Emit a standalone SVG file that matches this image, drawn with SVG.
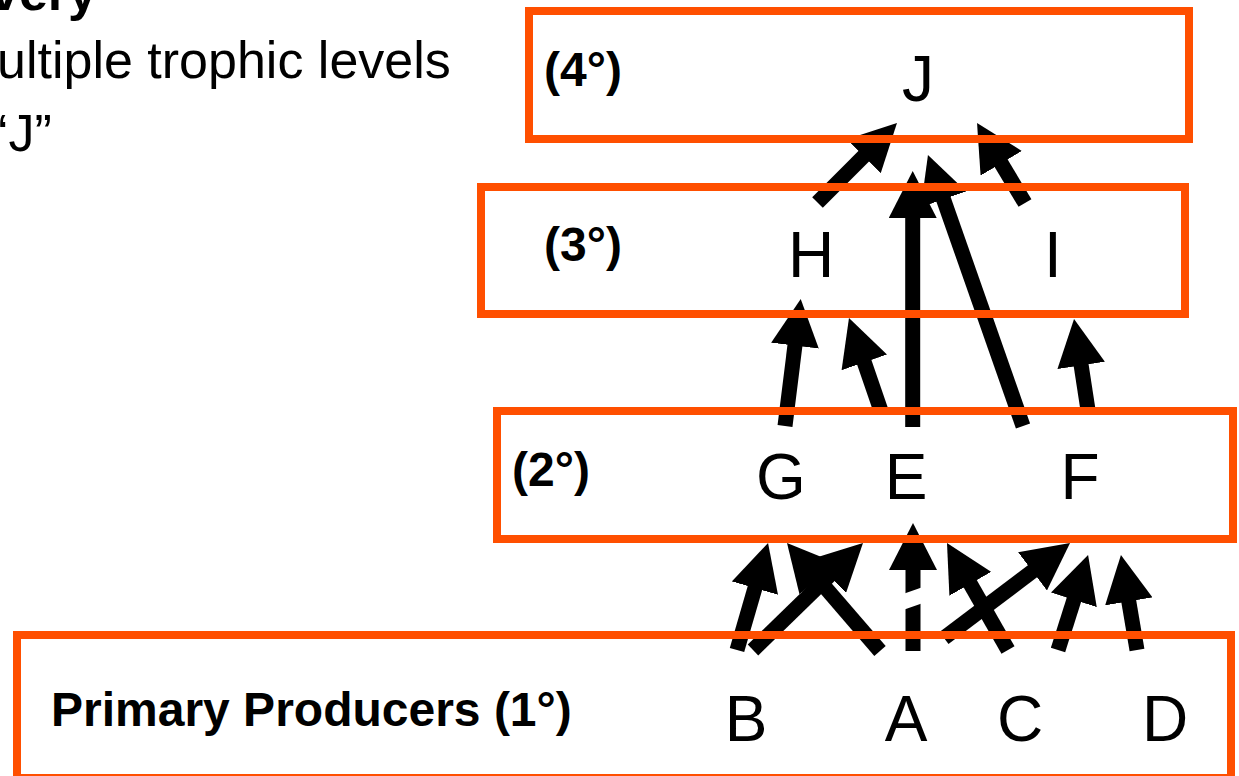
<svg xmlns="http://www.w3.org/2000/svg" width="1239" height="776" viewBox="0 0 1239 776">
  <defs>
    <marker id="head" markerUnits="userSpaceOnUse" markerWidth="48" markerHeight="48" viewBox="0 0 48 48" refX="7" refY="24" orient="auto">
      <path d="M0,0 L47,24 L0,48 Z" fill="#000"/>
    </marker>
    <style>
      .box { fill: none; stroke: #FF4F00; stroke-width: 8; }
      .arrow { stroke: #000; stroke-width: 15; stroke-linecap: butt; fill: none; marker-end: url(#head); }
      .lvl { font-family: "Liberation Sans", Arial, sans-serif; font-weight: bold; font-size: 48px; fill: #000; }
      .node { font-family: "Liberation Sans", Arial, sans-serif; font-size: 64px; fill: #000; text-anchor: middle; }
      .slide { font-family: "Liberation Sans", Arial, sans-serif; font-size: 52px; fill: #000; }
    </style>
  </defs>
  <rect width="1239" height="776" fill="#fff"/>

  <g id="slide-text">
    <text class="slide" x="-10" y="10" font-weight="bold" font-size="62">very</text>
    <text class="slide" x="-3" y="78">ultiple trophic levels</text>
    <text class="slide" x="-3" y="151">‘J”</text>
  </g>

  <g id="connectors">
    <line class="arrow" x1="817.5" y1="202.5" x2="868.7" y2="151.3"/>
    <line class="arrow" x1="912.7" y1="427" x2="912.7" y2="211"/>
    <line class="arrow" x1="1023" y1="426" x2="941.2" y2="192.7"/>
    <line class="arrow" x1="1025" y1="203" x2="997.6" y2="157.3"/>
    <line class="arrow" x1="785" y1="426" x2="795.8" y2="338.7"/>
    <line class="arrow" x1="881" y1="411" x2="862" y2="355.8"/>
    <line class="arrow" x1="1088" y1="410" x2="1080.1" y2="358.5"/>
    <line class="arrow" x1="737" y1="650" x2="756.9" y2="581.4"/>
    <line class="arrow" x1="753" y1="650" x2="834.3" y2="570.9"/>
    <line class="arrow" x1="880" y1="651" x2="813.1" y2="573.3"/>
    <line class="arrow" x1="913" y1="651" x2="913" y2="563"/>
    <line class="arrow" x1="1008" y1="650" x2="966.8" y2="577.7"/>
    <line class="arrow" x1="944" y1="638" x2="1038.1" y2="567.1"/>
    <line class="arrow" x1="1058" y1="650" x2="1076" y2="593.2"/>
    <line class="arrow" x1="1137" y1="650" x2="1127.6" y2="594.5"/>
    <polygon points="903,594 923,587 923,603 903,610" fill="#fff"/>
  </g>

  <g id="level4">
    <rect class="box" x="529" y="11" width="660" height="128"/>
    <text class="lvl" x="544" y="86">(4°)</text>
  </g>
  <g id="level3">
    <rect class="box" x="481" y="187" width="704" height="127"/>
    <text class="lvl" x="544" y="261">(3°)</text>
  </g>
  <g id="level2">
    <rect class="box" x="497" y="411" width="736" height="128"/>
    <text class="lvl" x="512" y="486">(2°)</text>
  </g>
  <g id="level1">
    <rect class="box" x="17" y="635" width="1214" height="143"/>
    <text class="lvl" x="51" y="726" font-size="49.5">Primary Producers (1°)</text>
  </g>

  <g id="node-J"><text class="node" x="918" y="101">J</text></g>
  <g id="node-H"><text class="node" x="811" y="277">H</text></g>
  <g id="node-I"><text class="node" x="1053" y="277">I</text></g>
  <g id="node-G"><text class="node" x="781" y="499">G</text></g>
  <g id="node-E"><text class="node" x="906" y="499">E</text></g>
  <g id="node-F"><text class="node" x="1080" y="499">F</text></g>
  <g id="node-B"><text class="node" x="746" y="741">B</text></g>
  <g id="node-A"><text class="node" x="906" y="741">A</text></g>
  <g id="node-C"><text class="node" x="1020" y="741">C</text></g>
  <g id="node-D"><text class="node" x="1165" y="741">D</text></g>
</svg>
